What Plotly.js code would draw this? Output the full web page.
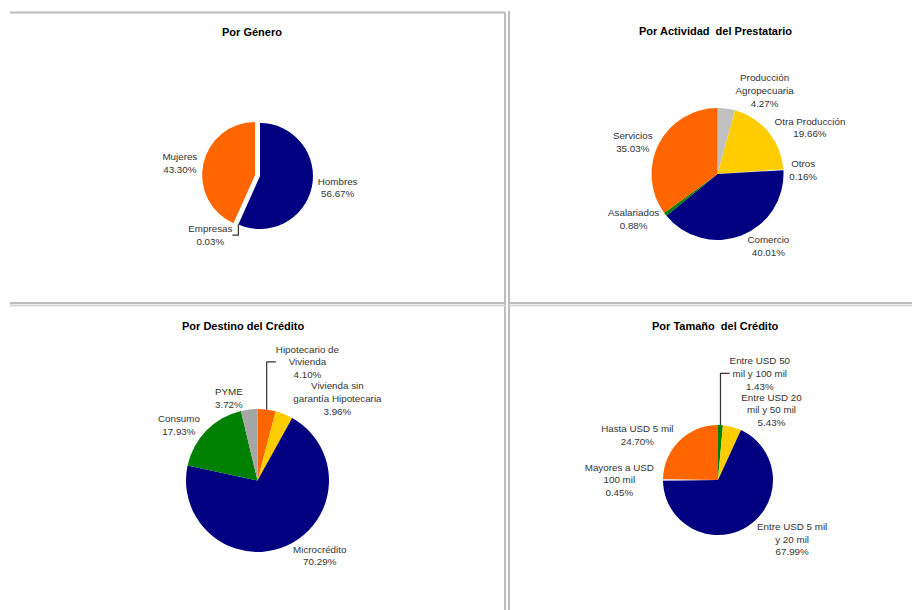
<!DOCTYPE html>
<html><head><meta charset="utf-8">
<script src="https://cdn.plot.ly/plotly-3.0.1.min.js"></script>
<style>body{margin:0;background:#fff}</style>
</head><body><div id="chart" style="width:912px;height:610px"></div>
<script>
// Por Género
const generoLabels = ['Hombres', 'Empresas', 'Mujeres'];
const generoValues = [56.67, 0.03, 43.30];
const generoColors = ['#000080', '#000000', '#FF6600'];
const generoPull = [0, 0, 0.095];

// Por Actividad del Prestatario
const actLabels = ['Producción<br>Agropecuaria', 'Otra Producción', 'Otros', 'Comercio', 'Asalariados', 'Servicios'];
const actValues = [4.27, 19.66, 0.16, 40.01, 0.88, 35.03];
const actColors = ['#C0C0C0', '#FFCC00', '#CCFFFF', '#000080', '#008000', '#FF6600'];

// Por Destino del Crédito
const destLabels = ['Hipotecario de<br>Vivienda', 'Vivienda sin<br>garantía Hipotecaria', 'Microcrédito', 'Consumo', 'PYME'];
const destValues = [4.10, 3.96, 70.29, 17.93, 3.72];
const destColors = ['#FF6600', '#FFCC00', '#000080', '#008000', '#A6A6A6'];

// Por Tamaño del Crédito
const tamLabels = ['Entre USD 50<br>mil y 100 mil', 'Entre USD 20<br>mil y 50 mil', 'Entre USD 5 mil<br>y 20 mil', 'Mayores a USD<br>100 mil', 'Hasta USD 5 mil'];
const tamValues = [1.43, 5.43, 67.99, 0.45, 24.70];
const tamColors = ['#008000', '#FFCC00', '#000080', '#F2DCDB', '#FF6600'];

const titles = ['Por Género', 'Por Actividad  del Prestatario', 'Por Destino del Crédito', 'Por Tamaño  del Crédito'];

const W = 912, H = 610;
function dom(x0, x1, y0, y1) {
  return {x: [x0 / W, x1 / W], y: [1 - y1 / H, 1 - y0 / H]};
}
const labelFont = {family: 'Liberation Sans, Arial, sans-serif', size: 9.8, color: '#333333'};

function pie(labels, values, colors, domain, extra) {
  return Object.assign({
    type: 'pie', labels: labels, values: values, sort: false, direction: 'clockwise', rotation: 0,
    marker: {colors: colors, line: {width: 0}},
    textposition: 'outside', texttemplate: '%{label}<br>%{value:.2f}%',
    textfont: labelFont, outsidetextfont: labelFont,
    domain: domain, hoverinfo: 'label+value', automargin: false, showlegend: false
  }, extra || {});
}

const data = [
  pie(generoLabels, generoValues, generoColors, dom(202, 318, 118, 234), {pull: generoPull}),
  pie(actLabels, actValues, actColors, dom(651.5, 783.5, 108, 240)),
  pie(destLabels, destValues, destColors, dom(186, 329, 409, 552)),
  pie(tamLabels, tamValues, tamColors, dom(663, 773, 425, 535))
];

const titlePos = [[252, 32], [715, 31], [243, 326], [715, 326]];
const annotations = titles.map((t, i) => ({
  text: '<b>' + t + '</b>', xref: 'paper', yref: 'paper', showarrow: false,
  x: titlePos[i][0] / W, y: 1 - titlePos[i][1] / H, xanchor: 'center', yanchor: 'middle',
  font: {family: 'Liberation Sans, Arial, sans-serif', size: 11, color: '#000000'}
}));

function ln(x0, y0, x1, y1, c, w) {
  return {type: 'line', xref: 'paper', yref: 'paper', x0: x0 / W, x1: x1 / W, y0: 1 - y0 / H, y1: 1 - y1 / H,
    line: {color: c, width: w}};
}
const shapes = [
  ln(10, 12.5, 505, 12.5, '#BDBDBD', 2),
  ln(505, 12, 505, 610, '#BDBDBD', 2),
  ln(509, 11, 509, 610, '#BDBDBD', 2),
  ln(10, 303, 505, 303, '#BDBDBD', 2),
  ln(509, 303, 912, 303, '#BDBDBD', 2),
  ln(10, 305.5, 505, 305.5, '#D6D6D6', 2),
  ln(509, 305.5, 912, 305.5, '#D6D6D6', 2)
];

Plotly.newPlot('chart', data, {
  width: W, height: H, margin: {l: 0, r: 0, t: 0, b: 0},
  paper_bgcolor: '#FFFFFF', plot_bgcolor: '#FFFFFF',
  annotations: annotations, shapes: shapes, showlegend: false
}, {displayModeBar: false, staticPlot: true});
</script>
</body></html>
